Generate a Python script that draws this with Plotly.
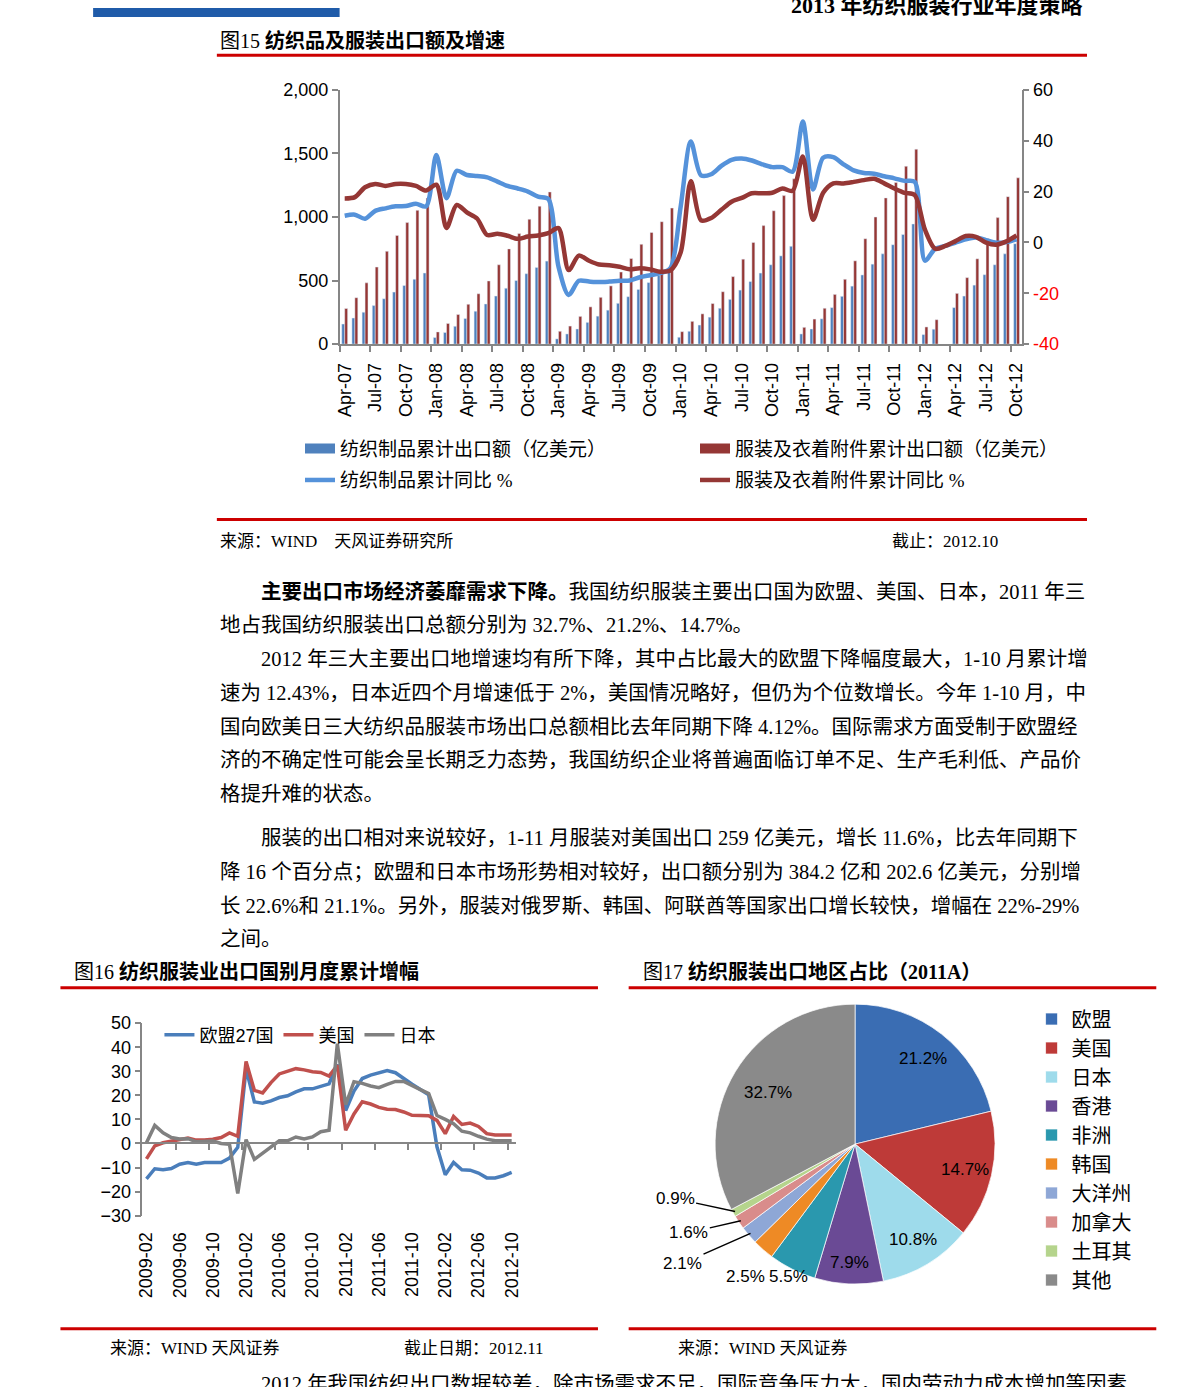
import math
import pandas as pd
import plotly.graph_objects as go

W, H = 1191, 1387
def px(x): return x / W
def py(y): return 1 - y / H

SERIF = "Liberation Serif, Noto Sans CJK SC, sans-serif"
SANS = "Liberation Sans, Noto Sans CJK SC, sans-serif"
AX = "#868686"

# ---------------- Fig 15 data ----------------
months15 = pd.date_range("2007-04-01", "2012-10-01", freq="MS").strftime("%b-%y").tolist()
ticks15 = ["Apr-07", "Jul-07", "Oct-07", "Jan-08", "Apr-08", "Jul-08", "Oct-08", "Jan-09",
           "Apr-09", "Jul-09", "Oct-09", "Jan-10", "Apr-10", "Jul-10", "Oct-10", "Jan-11",
           "Apr-11", "Jul-11", "Oct-11", "Jan-12", "Apr-12", "Jul-12", "Oct-12"]
textile_exp = [158, 205, 251, 303, 357, 409, 461, 510, 559,
               52, 91, 140, 202, 259, 316, 378, 440, 500, 554, 603, 653,
               41, 80, 119, 171, 220, 267, 321, 373, 430, 484, 539, 590,
               54, 101, 150, 212, 282, 352, 425, 492, 559, 624, 694, 769,
               80, 119, 199, 287, 376, 456, 544, 629, 710, 782, 862, 945,
               75, 117, None, 287, 378, 464, 546, 624, 710, 790]
apparel_exp = [280, 365, 482, 606, 730, 855, 956, 1052, 1150,
               96, 163, 233, 313, 396, 497, 624, 749, 870, 982, 1085, 1197,
               101, 142, 218, 293, 368, 458, 567, 673, 785, 878, 963, 1070,
               98, 179, 238, 319, 412, 531, 668, 800, 932, 1049, 1168, 1300,
               132, 197, 282, 391, 510, 655, 829, 1000, 1150, 1272, 1399, 1533,
               135, 192, None, 399, 523, 671, 829, 995, 1160, 1308]
textile_yoy = [10.5, 10.9, 9.3, 12.4, 13.4, 14.2, 14.3, 15.2, 14.2,
               34.4, 17.4, 28.2, 26.5, 26.1, 25.6, 23.9, 22.2, 21.2, 20.0, 18.0, 17.1,
               -9.5, -20.7, -15.1, -15.4, -15.6, -15.4, -15.1, -15.0, -13.7, -12.9, -12.1, -10.1,
               14.0, 39.7, 26.4, 26.8, 30.1, 32.5, 33.0, 32.2, 30.7, 29.6, 29.6, 27.8,
               47.5, 20.8, 33.3, 33.5, 30.7, 28.3, 27.3, 27.0, 26.0, 25.2, 24.2, 23.8,
               -7.2, -2.5, -1.4, -0.1, 1.2, 1.9, 0.9, -0.1, 0.1, 1.2]
apparel_yoy = [17.3, 17.8, 21.7, 23.0, 22.2, 23.0, 23.0, 22.2, 20.4,
               22.7, 5.7, 14.7, 11.8, 9.4, 2.9, 3.4, 2.6, 1.4, 2.3, 2.7, 3.6,
               5.6, -10.9, -5.2, -7.2, -8.7, -9.0, -9.6, -10.6, -10.2, -10.6, -11.5, -11.0,
               -4.0, 24.1, 8.7, 9.6, 12.8, 16.0, 17.5, 19.3, 19.3, 19.5, 21.2, 20.3,
               33.8, 8.9, 19.5, 23.2, 23.2, 23.8, 24.5, 25.0, 23.2, 21.2, 19.5, 18.6,
               5.0, -2.5, -1.4, 0.5, 2.5, 2.2, -0.1, -0.9, 0.4, 2.7]
left_ticks15 = [0, 500, 1000, 1500, 2000]
right_ticks15 = [-40, -20, 0, 20, 40, 60]

# ---------------- Fig 16 data ----------------
months16 = pd.date_range("2009-02-01", "2012-10-01", freq="MS").strftime("%Y-%m").tolist()
ticks16 = ["2009-02", "2009-06", "2009-10", "2010-02", "2010-06", "2010-10",
           "2011-02", "2011-06", "2011-10", "2012-02", "2012-06", "2012-10"]
eu = [-14.7, -10.5, -10.9, -10.4, -8.6, -7.9, -8.6, -7.9, -7.9, -7.9, -6.1, -1.6,
      31.0, 17.3, 16.7, 17.7, 19.1, 19.8, 21.4, 22.7, 22.7, 23.8, 24.8,
      32.8, 13.7, 21.8, 27.0, 28.4, 29.4, 30.3, 29.4, 26.9, 24.6, 22.4, 20.2,
      -1.4, -13.0, -7.9, -10.9, -11.1, -12.3, -14.3, -14.3, -13.4, -12.0]
us = [-6.4, -1.0, 0.3, 1.0, 1.4, 2.3, 1.4, 1.4, 1.8, 2.5, 4.4, 3.0,
      34.1, 22.1, 21.0, 25.3, 28.9, 30.0, 31.1, 30.6, 29.8, 29.5, 28.0,
      32.5, 5.5, 12.3, 17.3, 16.4, 15.0, 14.2, 14.1, 13.1, 11.7, 11.6, 11.5,
      9.6, 4.1, 11.2, 7.9, 8.5, 7.1, 4.1, 3.5, 3.5, 3.5]
jp = [0.3, 7.5, 4.4, 2.5, 1.9, 2.0, 0.7, 0.7, 1.0, 0.0, -0.3, -20.8,
      1.6, -6.6, -4.1, -1.4, 1.1, 1.1, 2.7, 1.9, 2.7, 4.9, 5.5,
      41.5, 16.1, 25.7, 25.0, 23.9, 23.2, 24.6, 25.8, 25.8, 23.9, 22.4, 20.8,
      11.6, 10.0, 8.2, 5.1, 4.4, 3.0, 1.8, 1.1, 1.1, 1.1]

# ---------------- Fig 17 data ----------------
regions = ["欧盟", "美国", "日本", "香港", "非洲", "韩国", "大洋州", "加拿大", "土耳其", "其他"]
shares = [21.2, 14.7, 10.8, 7.9, 5.5, 2.5, 2.1, 1.6, 0.9, 32.7]
pie_colors = ["#3a6db3", "#be3a38", "#9edbeb", "#6a4a95", "#2a98ae", "#ee8a25",
              "#8ea7d6", "#d98c8b", "#b5d48c", "#8a8a8a"]

# ---------------- Figure ----------------
fig = go.Figure()
x15 = list(range(len(months15)))
x16 = list(range(len(months16)))

BAR_BLUE, BAR_RED = "#4f81bd", "#953735"
LINE_BLUE, LINE_RED = "#5592da", "#953735"

fig.add_trace(go.Bar(x=x15, y=textile_exp, marker_color=BAR_BLUE, name="纺织制品累计出口额（亿美元）",
                     showlegend=False, xaxis="x", yaxis="y"))
fig.add_trace(go.Bar(x=x15, y=apparel_exp, marker_color=BAR_RED, name="服装及衣着附件累计出口额（亿美元）",
                     showlegend=False, xaxis="x", yaxis="y"))
fig.add_trace(go.Scatter(x=x15, y=textile_yoy, mode="lines", name="纺织制品累计同比 %",
                         line=dict(color=LINE_BLUE, width=4.5, shape="spline", smoothing=0.8),
                         xaxis="x", yaxis="y2", legend="legend2"))
fig.add_trace(go.Scatter(x=x15, y=apparel_yoy, mode="lines", name="服装及衣着附件累计同比 %",
                         line=dict(color=LINE_RED, width=4.5, shape="spline", smoothing=0.8),
                         xaxis="x", yaxis="y2", legend="legend2"))
# legend swatches for the bar series
fig.add_trace(go.Scatter(x=[None], y=[None], mode="lines", name="纺织制品累计出口额（亿美元）",
                         line=dict(color=BAR_BLUE, width=12), xaxis="x", yaxis="y", legend="legend"))
fig.add_trace(go.Scatter(x=[None], y=[None], mode="lines", name="服装及衣着附件累计出口额（亿美元）",
                         line=dict(color=BAR_RED, width=12), xaxis="x", yaxis="y", legend="legend"))

# Fig 16
for name, ys, col in [("欧盟27国", eu, "#4a7ebb"), ("美国", us, "#c0504d"), ("日本", jp, "#808080")]:
    fig.add_trace(go.Scatter(x=x16, y=ys, mode="lines", name=name, line=dict(color=col, width=3.5),
                             xaxis="x2", yaxis="y3", legend="legend3"))
fig.add_trace(go.Scatter(x=[None], y=[None], mode="lines", showlegend=False, hoverinfo="skip",
                         xaxis="x3", yaxis="y3"))

# Fig 17 pie
cx, cy, R = 857.7, 1150.7, 142
fig.add_trace(go.Pie(labels=regions, values=shares, sort=False, direction="clockwise", rotation=0,
                     marker=dict(colors=pie_colors, line=dict(color="rgba(255,255,255,0.7)", width=1)),
                     textinfo="none",
                     domain=dict(x=[px(cx - R), px(cx + R)], y=[py(cy + R), py(cy - R)]),
                     legend="legend4", hoverinfo="label+percent"))

# ---------------- Axes ----------------
tickfont18 = dict(family=SANS, size=18, color="black")
fig.update_layout(
    xaxis=dict(domain=[px(337), px(1026)], range=[-0.5, len(months15) - 0.5], anchor="y",
               tickmode="array", tickvals=[months15.index(t) for t in ticks15], ticktext=ticks15,
               tickangle=-90, ticks="", showline=True, linecolor=AX, linewidth=1.5,
               tickfont=tickfont18, showgrid=False, zeroline=False, ticklabelstandoff=10,
               minor=dict(tickmode="array", tickvals=[months15.index(t) - 0.5 for t in ticks15],
                          ticks="outside", ticklen=6, tickcolor=AX, tickwidth=1.5, showgrid=False)),
    yaxis=dict(domain=[py(339), py(81)], range=[0, 2000], anchor="x", tickmode="array",
               tickvals=left_ticks15, tickformat=",", showline=True, linecolor=AX, linewidth=1.5,
               ticks="outside", ticklen=6, tickcolor=AX, tickwidth=1.5, tickfont=tickfont18,
               showgrid=False, zeroline=False),
    yaxis2=dict(overlaying="y", side="right", anchor="x", range=[-40, 60], tickmode="array",
                tickvals=right_ticks15,
                ticktext=[f'<span style="color:#ff0000">{v}</span>' if v < 0 else str(v) for v in right_ticks15],
                showline=True, linecolor=AX, linewidth=1.5, ticks="outside", ticklen=6, tickcolor=AX,
                tickwidth=1.5, tickfont=tickfont18, showgrid=False, zeroline=False),
    xaxis2=dict(domain=[px(137.7), px(515)], range=[-0.5, len(months16) - 0.5], anchor="y3",
                tickmode="array", tickvals=[months16.index(t) for t in ticks16], ticktext=ticks16,
                tickangle=-90, ticks="", showline=False, tickfont=tickfont18, showgrid=False,
                zeroline=False, ticklabelstandoff=12),
    yaxis3=dict(domain=[py(1223.3), py(1028)], range=[-30, 50], anchor="x2", dtick=10,
                showline=True, linecolor=AX, linewidth=1.5, ticks="outside", ticklen=6,
                tickcolor=AX, tickwidth=1.5, tickfont=dict(family=SANS, size=18, color="black"),
                showgrid=False, zeroline=False),
)
y3lo, y3hi = py(1223.3), py(1028)
zero_pos = y3lo + (0 - (-30)) / 80 * (y3hi - y3lo)
fig.update_layout(
    xaxis3=dict(overlaying="x2", anchor="free", position=zero_pos, range=[-0.5, len(months16) - 0.5],
                tickmode="array", tickvals=[months16.index(t) - 0.5 for t in ticks16[1:]],
                showticklabels=False, ticks="outside", ticklen=6, tickcolor=AX, tickwidth=1.5,
                showline=True, linecolor=AX, linewidth=1.5, showgrid=False, zeroline=False),
)

# ---------------- Legends ----------------
fig.update_layout(
    legend=dict(x=px(297), y=py(445), xanchor="left", yanchor="middle", orientation="h",
                entrywidth=350, font=dict(family=SERIF, size=19, color="black"),
                bgcolor="rgba(0,0,0,0)"),
    legend2=dict(x=px(297), y=py(477), xanchor="left", yanchor="middle", orientation="h",
                 entrywidth=350, font=dict(family=SERIF, size=19, color="black"),
                 bgcolor="rgba(0,0,0,0)"),
    legend3=dict(x=px(155), y=py(1040), xanchor="left", yanchor="middle", orientation="h",
                 font=dict(family=SANS, size=18, color="black"), bgcolor="rgba(0,0,0,0)"),
    legend4=dict(x=px(1036), y=py(1004), xanchor="left", yanchor="top", orientation="v",
                 font=dict(family=SERIF, size=20, color="black"), bgcolor="rgba(0,0,0,0)"),
)

# ---------------- Text & decorations ----------------
ann = []
def txt(x, y, s, size, xanchor="left", family=SERIF, color="black"):
    ann.append(dict(x=px(x), y=py(y), xref="paper", yref="paper", text=s, showarrow=False,
                    xanchor=xanchor, yanchor="middle", font=dict(size=size, family=family, color=color)))

txt(1090, -5, "<b>2013 年纺织服装行业年度策略</b>", 22, xanchor="right")
txt(214, 31, "图15 <b>纺织品及服装出口额及增速</b>", 20)
txt(214, 539, "来源：WIND　天风证券研究所", 17)
txt(893, 539, "截止：2012.10", 17)

para = [
    (256, 590, "<b>主要出口市场经济萎靡需求下降。</b>我国纺织服装主要出口国为欧盟、美国、日本，2011 年三"),
    (214, 624, "地占我国纺织服装出口总额分别为 32.7%、21.2%、14.7%。"),
    (256, 659, "2012 年三大主要出口地增速均有所下降，其中占比最大的欧盟下降幅度最大，1-10 月累计增"),
    (214, 693, "速为 12.43%，日本近四个月增速低于 2%，美国情况略好，但仍为个位数增长。今年 1-10 月，中"),
    (214, 727, "国向欧美日三大纺织品服装市场出口总额相比去年同期下降 4.12%。国际需求方面受制于欧盟经"),
    (214, 761, "济的不确定性可能会呈长期乏力态势，我国纺织企业将普遍面临订单不足、生产毛利低、产品价"),
    (214, 795, "格提升难的状态。"),
    (256, 840, "服装的出口相对来说较好，1-11 月服装对美国出口 259 亿美元，增长 11.6%，比去年同期下"),
    (214, 875, "降 16 个百分点；欧盟和日本市场形势相对较好，出口额分别为 384.2 亿和 202.6 亿美元，分别增"),
    (214, 909, "长 22.6%和 21.1%。另外，服装对俄罗斯、韩国、阿联酋等国家出口增长较快，增幅在 22%-29%"),
    (214, 943, "之间。"),
]
for x, y, s in para:
    txt(x, y, s, 20.5)

txt(67, 976, "图16 <b>纺织服装业出口国别月度累计增幅</b>", 20)
txt(641, 976, "图17 <b>纺织服装出口地区占比（2011A）</b>", 20)
txt(103, 1358, "来源：WIND 天风证券", 17)
txt(400, 1358, "截止日期：2012.11", 17)
txt(677, 1358, "来源：WIND 天风证券", 17)
txt(256, 1394, "2012 年我国纺织出口数据较差，除市场需求不足，国际竞争压力大，国内劳动力成本增加等因素", 20.5)

# pie data labels, placed along each slice's mid angle
total = sum(shares)
mids, cum = [], 0.0
for v in shares:
    mids.append((cum + v / 2) / total * 2 * math.pi)
    cum += v
def edge(i, k=1.0):
    a = mids[i]
    return cx + k * R * math.sin(a), cy - k * R * math.cos(a)
lab = lambda v: f"{v:.1f}%"
label_radius = [0.78, 0.8, 0.8, 0.85, 1.06, 1.0, None, None, None, 0.72]
for i, k in enumerate(label_radius):
    if k is None:
        continue
    ex, ey = edge(i, k)
    if i == 5:
        ex, ey = ex - 17, ey + 27
    txt(ex, ey, lab(shares[i]), 17, xanchor="center", family=SANS)
for i, (dx, dy) in zip([6, 7, 8], [(-68, 30), (-52, 12), (-60, -13)]):
    ex, ey = edge(i, 0.98)
    ann.append(dict(x=px(ex), y=py(ey), xref="paper", yref="paper", text=lab(shares[i]),
                    showarrow=True, arrowhead=0, arrowwidth=1.5, arrowcolor="black",
                    ax=dx, ay=dy, font=dict(family=SANS, size=17, color="black")))

shapes = []
def hline(x0, x1, y, w=3, col="#cc0000"):
    shapes.append(dict(type="line", xref="paper", yref="paper", x0=px(x0), x1=px(x1),
                       y0=py(y), y1=py(y), line=dict(color=col, width=w)))
shapes.append(dict(type="rect", xref="paper", yref="paper", x0=px(88), x1=px(337), y0=py(7), y1=py(-2),
                   fillcolor="#1f5ba9", line=dict(width=0)))
hline(213, 1092, 46)
hline(213, 1092, 517)
hline(55, 598, 992)
hline(629, 1162, 992)
hline(55, 598, 1338)
hline(629, 1162, 1338)

fig.update_layout(
    width=W, height=H, autosize=False, margin=dict(l=0, r=0, t=0, b=0),
    paper_bgcolor="white", plot_bgcolor="white",
    barmode="group", bargap=0.42, bargroupgap=0,
    annotations=ann, shapes=shapes, showlegend=True,
    font=dict(family=SERIF, color="black"),
)
fig.write_html("out.html")
